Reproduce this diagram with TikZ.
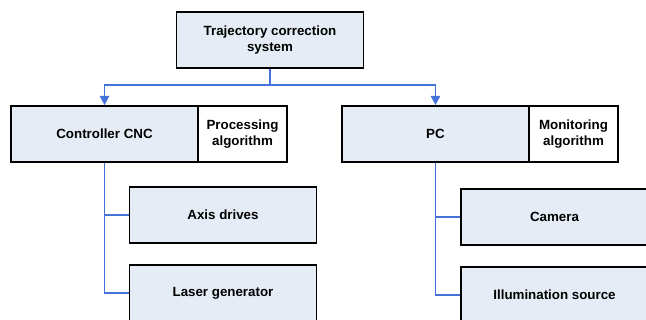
\documentclass[tikz,border=0pt]{standalone}
\usepackage{fontspec}
\setmainfont{Liberation Sans}
\usetikzlibrary{arrows.meta}
\definecolor{boxfill}{HTML}{E6ECF6}
\definecolor{linkblue}{HTML}{4472D8}

\begin{document}
\begin{tikzpicture}[x=0.75pt,y=-0.75pt,
  block/.style={rectangle,draw,line width=1.3pt,fill=boxfill,minimum width=140.25pt,minimum height=42pt,align=center,font=\fontsize{10}{12.5}\selectfont\bfseries},
  side/.style={block,fill=white,minimum width=66.75pt},
  link/.style={draw=linkblue,line width=1.3pt},
  arrow/.style={link,-{Triangle[length=7pt,width=7pt]}}]
\def\rowOne{134}
\def\rowTwo{215}
\def\rowThree{293}
\useasboundingbox (0,0) rectangle (646,320);
\clip (0,0) rectangle (646,320);
  %\draw[help lines] (0,0) grid (646,320);
\path
(270,40) node [block,minimum width=140.25pt] (top) {Trajectory correction\\system}
(104.5,\rowOne) node [block] (cnc) {Controller CNC}
(242.5,\rowOne) node [side] (proc) {Processing\\algorithm}
(435.5,\rowOne) node [block] (pc) {PC}
(573.5,\rowOne) node [side] (mon) {Monitoring\\algorithm}
(223,\rowTwo) node [block] (axis) {Axis drives}
(223,\rowThree) node [block] (laser) {Laser generator}
(554.5,\rowTwo+2) node [block] (cam) {Camera}
(554.5,\rowThree+2) node [block] (light) {Illumination source}
;
\coordinate (split) at (270,85);
\draw[link] (top.south) -- (split);
\draw[arrow] (split) -| (cnc.north);
\draw[arrow] (split) -| (pc.north);
\draw[link] (cnc.south) |- (axis.west);
\draw[link] (cnc.south) |- (laser.west);
\draw[link] (pc.south) |- (cam.west);
\draw[link] (pc.south) |- (light.west);
\end{tikzpicture}
\end{document}
